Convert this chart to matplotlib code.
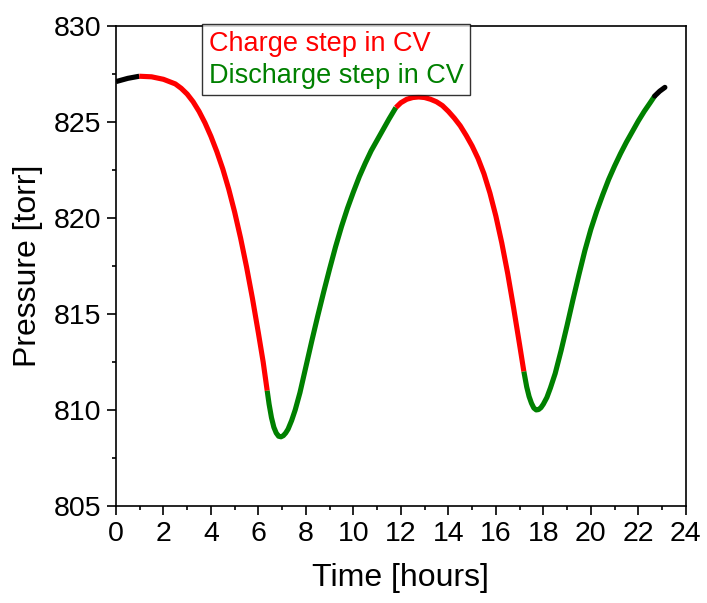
import matplotlib
matplotlib.use("Agg")
import matplotlib.pyplot as plt
from matplotlib.ticker import MultipleLocator

plt.rcParams['font.family'] = ['Liberation Sans', 'DejaVu Sans']

# Pressure trace, split by CV step
rest_start_t = [0.0, 0.5, 0.98]
rest_start_p = [827.1, 827.27, 827.38]

charge1_t = [0.98, 1.5, 2.0, 2.5, 2.75, 3.0, 3.25, 3.5, 3.75, 4.0, 4.25, 4.5, 4.75,
             5.0, 5.25, 5.5, 5.75, 6.0, 6.2, 6.37]
charge1_p = [827.38, 827.35, 827.22, 826.98, 826.75, 826.45, 826.05, 825.55, 824.95, 824.25,
             823.45, 822.55, 821.5, 820.3, 818.95, 817.45, 815.8, 814.0, 812.5, 811.0]

discharge1_t = [6.37, 6.45, 6.55, 6.65, 6.75, 6.85, 6.95, 7.05, 7.15, 7.25, 7.4, 7.55, 7.75,
                8.0, 8.25, 8.5, 8.75, 9.0, 9.25, 9.5, 9.75, 10.0, 10.25, 10.5, 10.75,
                11.0, 11.25, 11.5, 11.79]
discharge1_p = [811.0, 810.3, 809.6, 809.1, 808.8, 808.63, 808.6, 808.66, 808.8, 809.0,
                809.45, 810.0, 810.9, 812.25, 813.6, 814.9, 816.15, 817.35, 818.5, 819.55,
                820.5, 821.35, 822.15, 822.85, 823.5, 824.05, 824.6, 825.15, 825.75]

charge2_t = [11.79, 12.0, 12.25, 12.5, 12.75, 13.0, 13.25, 13.5, 13.75, 14.0, 14.25, 14.5,
             14.75, 15.0, 15.25, 15.5, 15.75, 16.0, 16.25, 16.5, 16.75, 17.0, 17.18]
charge2_p = [825.75, 826.0, 826.18, 826.27, 826.3, 826.27, 826.18, 826.05, 825.85, 825.55,
             825.2, 824.8, 824.3, 823.75, 823.1, 822.3, 821.3, 820.1, 818.7, 817.1,
             815.3, 813.4, 812.0]

discharge2_t = [17.18, 17.3, 17.4, 17.5, 17.6, 17.7, 17.8, 17.9, 18.0, 18.15, 18.3, 18.5,
                18.75, 19.0, 19.25, 19.5, 19.75, 20.0, 20.25, 20.5, 20.75, 21.0, 21.25,
                21.5, 21.75, 22.0, 22.25, 22.5, 22.69]
discharge2_p = [812.0, 811.2, 810.7, 810.35, 810.1, 810.0, 810.02, 810.12, 810.3, 810.65,
                811.15, 811.9, 813.1, 814.4, 815.75, 817.05, 818.3, 819.4, 820.35, 821.2,
                822.0, 822.7, 823.35, 823.95, 824.5, 825.05, 825.55, 826.0, 826.35]

rest_end_t = [22.69, 22.9, 23.12]
rest_end_p = [826.35, 826.6, 826.8]

legend_labels = ['Charge step in CV', 'Discharge step in CV']

RED = '#ff0000'
GREEN = '#008000'
LW = 3.7

fig = plt.figure(figsize=(7.07, 6.03), dpi=100)
ax = fig.add_axes([0.164, 0.161, 0.806, 0.796])

style = dict(lw=LW, solid_capstyle='butt', solid_joinstyle='round')
ax.plot(rest_start_t, rest_start_p, color='black', **style)
ax.plot(charge1_t, charge1_p, color=RED, label=legend_labels[0], **style)
ax.plot(discharge1_t, discharge1_p, color=GREEN, label=legend_labels[1], **style)
ax.plot(charge2_t, charge2_p, color=RED, **style)
ax.plot(discharge2_t, discharge2_p, color=GREEN, **style)
ax.plot(rest_end_t, rest_end_p, color='black', lw=LW, solid_capstyle='round')

ax.set_xlim(0, 24)
ax.set_ylim(805, 830)
ax.xaxis.set_major_locator(MultipleLocator(2))
ax.xaxis.set_minor_locator(MultipleLocator(1))
ax.yaxis.set_major_locator(MultipleLocator(5))
ax.yaxis.set_minor_locator(MultipleLocator(2.5))

ax.tick_params(which='both', direction='out', top=False, right=False, width=1.2, labelsize=20.5)
ax.tick_params(which='major', length=6.5, pad=4)
ax.tick_params(which='minor', length=3.2)
for sp in ax.spines.values():
    sp.set_linewidth(1.2)

ax.set_xlabel('Time [hours]', fontsize=23, labelpad=12)
ax.set_ylabel('Pressure [torr]', fontsize=23, labelpad=8)

# legend with text only, coloured like the curves
leg = ax.legend(loc='upper left', bbox_to_anchor=(0.151, 1.003), borderaxespad=0,
                handlelength=0, handletextpad=0, fontsize=19.5, frameon=True,
                fancybox=False, borderpad=0.25, labelspacing=0.2)
leg.get_frame().set_edgecolor('black')
leg.get_frame().set_linewidth(1.0)
for h in leg.legend_handles:
    h.set_visible(False)
for txt, c in zip(leg.get_texts(), [RED, GREEN]):
    txt.set_color(c)

fig.savefig('out.png', dpi=100, facecolor='white')
